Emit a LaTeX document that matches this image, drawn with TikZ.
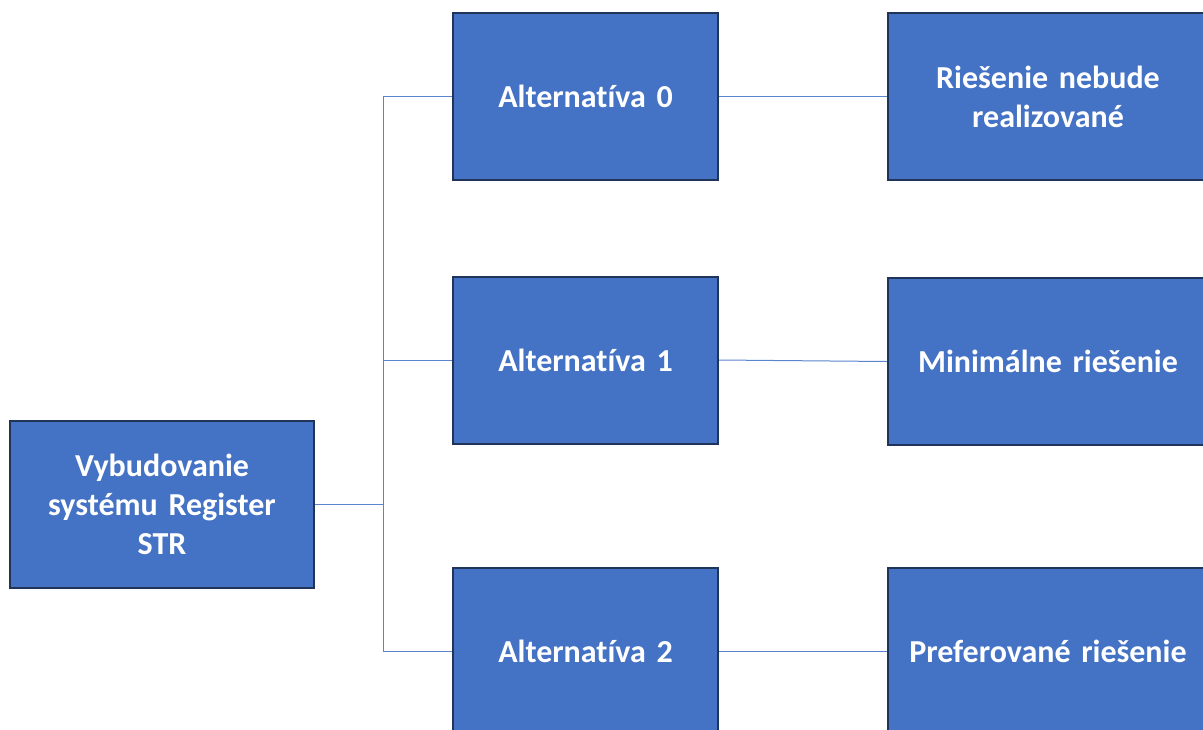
\documentclass[tikz,border=0pt]{standalone}
\usepackage{fontspec}
\setmainfont[Ligatures={NoCommon}]{Carlito}
\definecolor{boxfill}{HTML}{4472C4}
\definecolor{boxline}{HTML}{1F3458}
\definecolor{conn}{HTML}{5B84CC}
\begin{document}
\begin{tikzpicture}[x=1pt,y=-1pt,
  box/.style={draw=boxline, line width=2pt, fill=boxfill, text=white,
    font=\fontsize{32}{39}\selectfont\bfseries, align=center,
    minimum height=167pt, inner sep=4pt},
  midbox/.style={box, minimum width=265pt, text width=255pt},
  rightbox/.style={box, minimum width=320pt, text width=310pt},
  conn/.style={draw=conn, line width=1pt}]
\useasboundingbox (0,0) rectangle (1203,729);
\node[box, minimum width=304pt, text width=294pt] (root) at (162,504.5) {Vybudovanie\\systému Register\\STR};
\node[midbox] (a0) at (585.5,96.5) {Alternatíva 0};
\node[midbox] (a1) at (585.5,360) {Alternatíva 1};
\node[midbox] (a2) at (585.5,651.5) {Alternatíva 2};
\node[rightbox] (r0) at (1048,96.5) {Riešenie nebude\\realizované};
\node[rightbox] (r1) at (1048,361.5) {Minimálne riešenie};
\node[rightbox] (r2) at (1048,651.5) {Preferované riešenie};
\coordinate (j) at (383,504.5);
\draw[conn] (root.east) -- (j);
\draw[conn] (a0.west) -| (j);
\draw[conn] (a2.west) -| (j);
\draw[conn] (a1.west) -- (a1.west -| j);
\draw[conn] (a0.east) -- (r0.west);
\draw[conn] (a1.east) -- (r1.west);
\draw[conn] (a2.east) -- (r2.west);
\end{tikzpicture}
\end{document}
